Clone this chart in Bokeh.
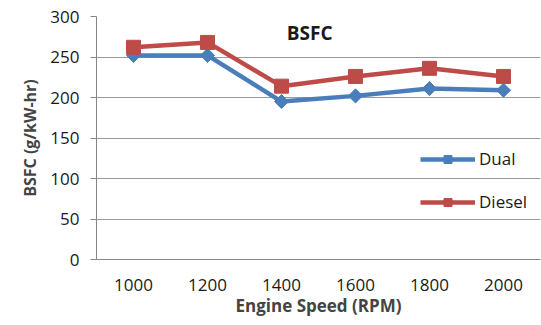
from bokeh.plotting import figure
from bokeh.models import Label, Legend, LegendItem, FactorRange, FixedTicker
from bokeh.embed import file_html
from bokeh.resources import INLINE

speeds = ["1000", "1200", "1400", "1600", "1800", "2000"]
dual = [252, 252, 195, 202, 211, 209]
diesel = [262, 268, 214, 226, 236, 226]
y_ticks = [0, 50, 100, 150, 200, 250, 300]

FONT = "Open Sans"
AXIS_GRAY = "#868686"
BLUE = "#4a7ebb"
RED = "#be4b48"
TEXT = "#1a1a1a"

p = figure(
    width=541, height=325,
    x_range=FactorRange(*speeds, range_padding=0),
    y_range=(0, 300),
    output_backend="svg", toolbar_location=None,
    min_border_left=96, min_border_right=1,
    min_border_top=16, min_border_bottom=66,
)
p.outline_line_color = None
p.background_fill_color = "white"

# axes
p.yaxis.ticker = FixedTicker(ticks=y_ticks)
p.yaxis.axis_line_color = AXIS_GRAY
p.yaxis.major_tick_line_color = AXIS_GRAY
p.yaxis.major_tick_out = 6
p.yaxis.major_tick_in = 0
p.yaxis.minor_tick_line_color = None
p.yaxis.major_label_text_font = FONT
p.yaxis.major_label_text_font_size = "17px"
p.yaxis.major_label_text_color = TEXT
p.yaxis.major_label_standoff = 11
p.yaxis.axis_label = "BSFC (g/kW-hr)"
p.yaxis.axis_label_text_font = FONT
p.yaxis.axis_label_text_font_style = "bold"
p.yaxis.axis_label_text_font_size = "16px"
p.yaxis.axis_label_standoff = 6

p.xaxis.axis_line_color = AXIS_GRAY
p.xaxis.major_tick_line_color = None
p.xaxis.minor_tick_line_color = None
p.xaxis.major_label_text_font = FONT
p.xaxis.major_label_text_font_size = "17px"
p.xaxis.major_label_text_color = TEXT
p.xaxis.major_label_standoff = 13
p.xaxis.axis_label = "Engine Speed (RPM)"
p.xaxis.axis_label_text_font = FONT
p.xaxis.axis_label_text_font_style = "bold"
p.xaxis.axis_label_text_font_size = "17px"
p.xaxis.axis_label_standoff = 0

p.xgrid.grid_line_color = None
p.ygrid.grid_line_color = "#9a9a9a"
p.ygrid.grid_line_width = 1

# series
l_dual = p.line(speeds, dual, line_color=BLUE, line_width=4.5)
m_dual = p.scatter(speeds, dual, marker="square", angle=0.785, size=10,
                   fill_color=BLUE, line_color=BLUE)
l_dies = p.line(speeds, diesel, line_color=RED, line_width=4.5)
m_dies = p.scatter(speeds, diesel, marker="square", size=14,
                   fill_color=RED, line_color=RED)

legend = Legend(
    items=[LegendItem(label="Dual", renderers=[l_dual, m_dual]),
           LegendItem(label="Diesel", renderers=[l_dies, m_dies])],
    location=(324, 46),
    orientation="vertical",
    padding=0, margin=0, spacing=20,
    glyph_width=55, glyph_height=20, label_height=20,
    label_standoff=4,
    border_line_color=None, background_fill_alpha=0,
    label_text_font=FONT, label_text_font_size="17px",
    label_text_color=TEXT,
)
p.add_layout(legend)

p.add_layout(Label(x=2.88, y=280, text="BSFC", text_font=FONT,
                   text_font_style="bold", text_font_size="19px",
                   text_align="center", text_baseline="middle",
                   text_color=TEXT))

open("out.html", "w").write(file_html(p, INLINE))
